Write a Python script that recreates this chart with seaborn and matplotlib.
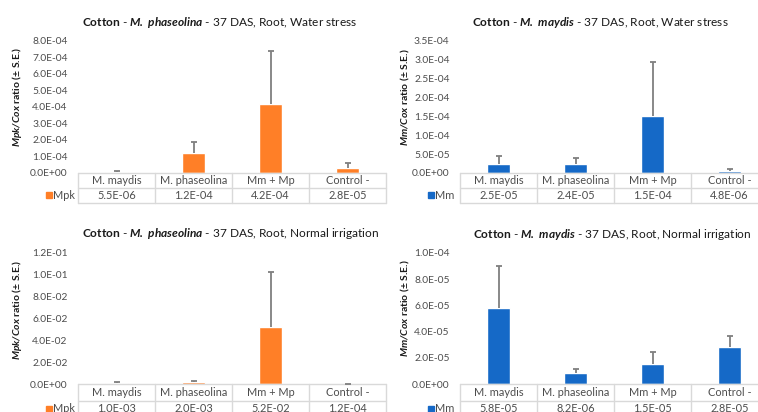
import numpy as np
import pandas as pd
import matplotlib
matplotlib.use("Agg")
import matplotlib.pyplot as plt
import seaborn as sns
from matplotlib.ticker import FuncFormatter, MultipleLocator

# data
groups = ["M. maydis", "M. phaseolina", "Mm + Mp", "Control -"]

mpk_water = [5.5e-06, 1.2e-04, 4.2e-04, 2.8e-05]
mpk_water_se = [6.0e-06, 6.8e-05, 3.2e-04, 3.3e-05]

mm_water = [2.5e-05, 2.4e-05, 1.5e-04, 4.8e-06]
mm_water_se = [2.0e-05, 1.7e-05, 1.43e-04, 5.8e-06]

mpk_normal = [1.0e-03, 2.0e-03, 5.2e-02, 1.2e-04]
mpk_normal_se = [6.0e-04, 1.0e-03, 4.96e-02, 1.0e-04]

mm_normal = [5.8e-05, 8.2e-06, 1.5e-05, 2.8e-05]
mm_normal_se = [3.2e-05, 3.3e-06, 9.4e-06, 9.0e-06]

ORANGE = "#FF7F27"
BLUE = "#1569C7"
GRID = "#D9D9D9"
TXT = "#4D4D4D"

sns.set_theme(style="white")
plt.rcParams["font.family"] = ["Lato", "DejaVu Sans"]
plt.rcParams["mathtext.fontset"] = "custom"
plt.rcParams["mathtext.rm"] = "Lato"
plt.rcParams["mathtext.bf"] = "Lato:bold"
plt.rcParams["mathtext.it"] = "Lato:italic"
plt.rcParams["mathtext.bfit"] = "Lato:italic:bold"

W, H = 758, 412
fig = plt.figure(figsize=(W / 100, H / 100), dpi=100)


def add_ax(left, top, right, bottom):
    return fig.add_axes([left / W, 1 - bottom / H, (right - left) / W, (bottom - top) / H])


def fmt(v, pos=None):
    return f"{v:.1E}"


def draw_panel(ax, vals, se, color, series, title, title_x, ymax, step, row_px, ylab_dx, ylab_y):
    df = pd.DataFrame({"group": groups, "value": vals})
    sns.barplot(data=df, x="group", y="value", color=color, saturation=1,
                width=0.31, errorbar=None, ax=ax)
    x = np.arange(len(groups))
    v = np.array(vals)
    e = np.array(se)
    ax.errorbar(x, v, yerr=[np.zeros_like(e), e], fmt="none", ecolor="#7F7F7F",
                elinewidth=1.3, capsize=0, zorder=3)
    ax.plot(x, v + e, linestyle="none", marker="_", markersize=5, mew=1.3,
            color="#7F7F7F", zorder=3)

    ax.set_xlim(-0.5, len(groups) - 0.5)
    ax.set_ylim(0, ymax)
    ax.yaxis.set_major_locator(MultipleLocator(step))
    ax.yaxis.set_major_formatter(FuncFormatter(fmt))
    ax.tick_params(axis="y", length=0, pad=7.5, labelsize=7.4, labelcolor=TXT)
    ax.set_xticks([])
    ax.set_xlabel("")
    ax.set_ylabel("")
    for s in ax.spines.values():
        s.set_visible(False)

    ax.set_title(title, x=title_x, y=1.0, pad=11, fontsize=8.6, color="#1a1a1a")
    ax.text(ylab_dx, ylab_y, r"$\mathbfit{" + series + r"/Cox}$ ratio (± S.E.)",
            transform=ax.transAxes, rotation=90, ha="center", va="center",
            fontsize=7.5, fontweight="bold", color="#1a1a1a")

    # data table under the bars
    h = row_px / ax.bbox.height
    tr = ax.get_xaxis_transform()
    n = len(groups)
    for yy in [0, -h, -2 * h]:
        ax.plot([-0.5, n - 0.5], [yy, yy], color=GRID, lw=1, transform=tr, clip_on=False)
    for xx in np.arange(-0.5, n, 1.0):
        ax.plot([xx, xx], [0, -2 * h], color=GRID, lw=1, transform=tr, clip_on=False)
    for i, g in enumerate(groups):
        ax.text(i, -h / 2, g, transform=tr, ha="center", va="center",
                fontsize=7.9, color=TXT)
        ax.text(i, -1.5 * h, fmt(vals[i]), transform=tr, ha="center", va="center",
                fontsize=7.9, color=TXT)
    w = ax.bbox.width
    ax.plot([-29 / w], [-1.5 * h], marker="s", markersize=4.3, color=color,
            transform=ax.transAxes, clip_on=False)
    ax.text(-25 / w, -1.5 * h, series, transform=ax.transAxes, ha="left", va="center",
            fontsize=7.9, color=TXT)


ax1 = add_ax(78, 41, 386, 173)
ax2 = add_ax(460, 41, 768, 173)
ax3 = add_ax(78, 252, 386, 384)
ax4 = add_ax(460, 253, 768, 384)

draw_panel(ax1, mpk_water, mpk_water_se, ORANGE, "Mpk",
           r"$\mathbf{Cotton}$ - $\mathbfit{M.\ phaseolina}$ - 37 DAS, Root, Water stress",
           0.46, 8e-4, 1e-4, 15, -61 / 308, 0.576)
draw_panel(ax2, mm_water, mm_water_se, BLUE, "Mm",
           r"$\mathbf{Cotton}$ - $\mathbfit{M.\ maydis}$ - 37 DAS, Root, Water stress",
           0.4545, 3.5e-4, 5e-5, 15, -55 / 308, 0.576)
draw_panel(ax3, mpk_normal, mpk_normal_se, ORANGE, "Mpk",
           r"$\mathbf{Cotton}$ - $\mathbfit{M.\ phaseolina}$ - 37 DAS, Root, Normal irrigation",
           0.495, 0.12, 0.02, 16.5, -61 / 308, 0.56)
draw_panel(ax4, mm_normal, mm_normal_se, BLUE, "Mm",
           r"$\mathbf{Cotton}$ - $\mathbfit{M.\ maydis}$ - 37 DAS, Root, Normal irrigation",
           0.495, 1e-4, 2e-5, 16.5, -55 / 308, 0.58)

fig.savefig("out.png", dpi=100)
